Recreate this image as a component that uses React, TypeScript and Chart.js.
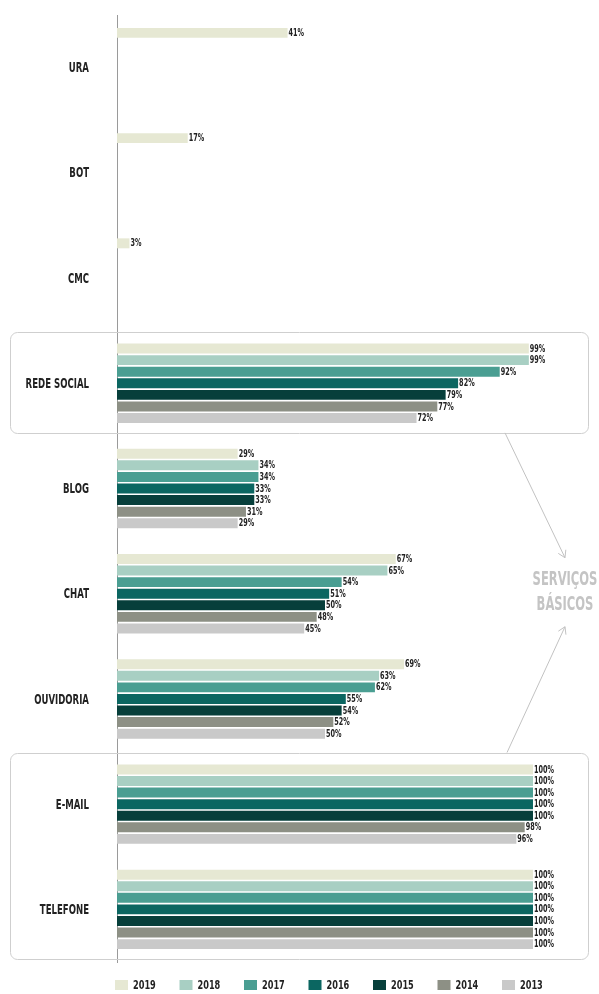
import React, { useEffect, useRef } from "react";
import { Chart, registerables } from "chart.js";

Chart.register(...registerables);

const categories = ["URA", "BOT", "CMC", "REDE SOCIAL", "BLOG", "CHAT", "OUVIDORIA", "E-MAIL", "TELEFONE"];
const years = ["2019", "2018", "2017", "2016", "2015", "2014", "2013"];
const v2019 = [41, 17, 3, 99, 29, 67, 69, 100, 100];
const v2018 = [null, null, null, 99, 34, 65, 63, 100, 100];
const v2017 = [null, null, null, 92, 34, 54, 62, 100, 100];
const v2016 = [null, null, null, 82, 33, 51, 55, 100, 100];
const v2015 = [null, null, null, 79, 33, 50, 54, 100, 100];
const v2014 = [null, null, null, 77, 31, 48, 52, 98, 100];
const v2013 = [null, null, null, 72, 29, 45, 50, 96, 100];
const seriesValues = [v2019, v2018, v2017, v2016, v2015, v2014, v2013];
const colors = ["#e6e8d3", "#a8cfc3", "#4a9e92", "#0b6661", "#073f3b", "#8d9085", "#c9c9c9"];
const highlightGroups = [["REDE SOCIAL"], ["E-MAIL", "TELEFONE"]];
const annotationLines = ["SERVIÇOS", "BÁSICOS"];

const FONT = "'DejaVu Sans Condensed', 'DejaVu Sans', sans-serif";
const TEXT = "#222222";

function condensedText(
  ctx: CanvasRenderingContext2D,
  text: string,
  x: number,
  y: number,
  align: "left" | "right" | "center",
  sx: number
) {
  ctx.save();
  ctx.translate(x, y);
  ctx.scale(sx, 1);
  ctx.textAlign = align;
  ctx.textBaseline = "middle";
  ctx.fillText(text, 0, 0);
  ctx.restore();
}

function arrowHead(ctx: CanvasRenderingContext2D, fx: number, fy: number, tx: number, ty: number) {
  const ang = Math.atan2(ty - fy, tx - fx);
  const len = 8;
  ctx.beginPath();
  ctx.moveTo(tx - len * Math.cos(ang - 0.55), ty - len * Math.sin(ang - 0.55));
  ctx.lineTo(tx, ty);
  ctx.lineTo(tx - len * Math.cos(ang + 0.55), ty - len * Math.sin(ang + 0.55));
  ctx.stroke();
}

const decorPlugin = {
  id: "decor",
  beforeDatasetsDraw(chart: any) {
    const { ctx, scales } = chart;
    const y = scales.y;
    const band = y.getPixelForValue(1) - y.getPixelForValue(0);
    ctx.save();
    ctx.strokeStyle = "#cfcfcf";
    ctx.lineWidth = 1;
    highlightGroups.forEach((g) => {
      const i0 = categories.indexOf(g[0]);
      const i1 = categories.indexOf(g[g.length - 1]);
      const top = Math.round(y.getPixelForValue(i0) - band / 2 + 1);
      const bottom = Math.round(y.getPixelForValue(i1) + band / 2 - 3);
      ctx.beginPath();
      (ctx as any).roundRect(10.5, top + 0.5, chart.width - 21, bottom - top, 7);
      ctx.stroke();
    });
    // category labels
    ctx.fillStyle = TEXT;
    ctx.font = `bold 14px ${FONT}`;
    categories.forEach((c, i) => {
      condensedText(ctx, c, chart.chartArea.left - 28, y.getPixelForValue(i) + 1, "right", 0.68);
    });
    ctx.restore();
  },
  afterDraw(chart: any) {
    const { ctx, scales, chartArea } = chart;
    const y = scales.y;
    const band = y.getPixelForValue(1) - y.getPixelForValue(0);
    const g0 = highlightGroups[0];
    const g1 = highlightGroups[1];
    const box1Bottom = y.getPixelForValue(categories.indexOf(g0[g0.length - 1])) + band / 2 - 3;
    const box2Top = y.getPixelForValue(categories.indexOf(g1[0])) - band / 2 + 1;
    const cy = (box1Bottom + box2Top) / 2;
    const tx = chart.width - 34;
    const sx = chart.width - 94;
    ctx.save();
    ctx.strokeStyle = "#c2c2c2";
    ctx.lineWidth = 1;
    ctx.beginPath();
    ctx.moveTo(sx, box1Bottom);
    ctx.lineTo(tx, cy - 35);
    ctx.stroke();
    arrowHead(ctx, sx, box1Bottom, tx, cy - 35);
    ctx.beginPath();
    ctx.moveTo(sx + 2, box2Top);
    ctx.lineTo(tx, cy + 34);
    ctx.stroke();
    arrowHead(ctx, sx + 2, box2Top, tx, cy + 34);
    ctx.fillStyle = "#c4c4c4";
    ctx.font = `bold 20px ${FONT}`;
    condensedText(ctx, annotationLines[0], tx, cy - 13, "center", 0.64);
    condensedText(ctx, annotationLines[1], tx, cy + 12, "center", 0.64);

    // legend
    const ly = chart.height - 9;
    const step = 64.5;
    const lx0 = chartArea.left - 2;
    ctx.font = `bold 13px ${FONT}`;
    years.forEach((yr, i) => {
      const x = lx0 + i * step;
      ctx.fillStyle = colors[i];
      ctx.fillRect(x, ly - 5, 13, 10);
      ctx.fillStyle = TEXT;
      condensedText(ctx, yr, x + 18, ly + 1, "left", 0.7);
    });
    ctx.restore();
  },
  afterDatasetsDraw(chart: any) {
    const { ctx } = chart;
    ctx.save();
    ctx.fillStyle = TEXT;
    ctx.font = `bold 10px ${FONT}`;
    chart.data.datasets.forEach((ds: any, di: number) => {
      const meta = chart.getDatasetMeta(di);
      meta.data.forEach((el: any, i: number) => {
        const v = ds.data[i];
        if (v === null || v === undefined) return;
        condensedText(ctx, `${v}%`, el.x + 1, el.y + 0.5, "left", 0.72);
      });
    });
    ctx.restore();
  },
};

export default function App() {
  const ref = useRef<HTMLCanvasElement | null>(null);
  useEffect(() => {
    if (!ref.current) return;
    const chart = new Chart(ref.current, {
      type: "bar",
      data: {
        labels: categories,
        datasets: years.map((yr, i) => ({
          label: yr,
          data: seriesValues[i],
          backgroundColor: colors[i],
          borderWidth: 0,
          categoryPercentage: 0.77,
          barPercentage: 0.86,
        })),
      },
      options: {
        indexAxis: "y",
        animation: false,
        responsive: false,
        maintainAspectRatio: false,
        layout: { padding: { top: 15, right: 66, left: 0, bottom: 32 } },
        scales: {
          x: { display: false, min: 0, max: 100 },
          y: {
            afterFit: (s: any) => {
              s.width = 117;
            },
            grid: { display: false },
            border: { display: true, color: "#9a9a9a", width: 1 },
            ticks: { display: false },
          },
        },
        plugins: {
          tooltip: { enabled: false },
          legend: { display: false },
        },
      },
      plugins: [decorPlugin],
    });
    return () => chart.destroy();
  }, []);
  return (
    <div style={{ position: "absolute", left: 0, top: 0, width: 599, height: 994, background: "#fff" }}>
      <canvas ref={ref} width={599} height={994} style={{ display: "block" }} />
    </div>
  );
}
